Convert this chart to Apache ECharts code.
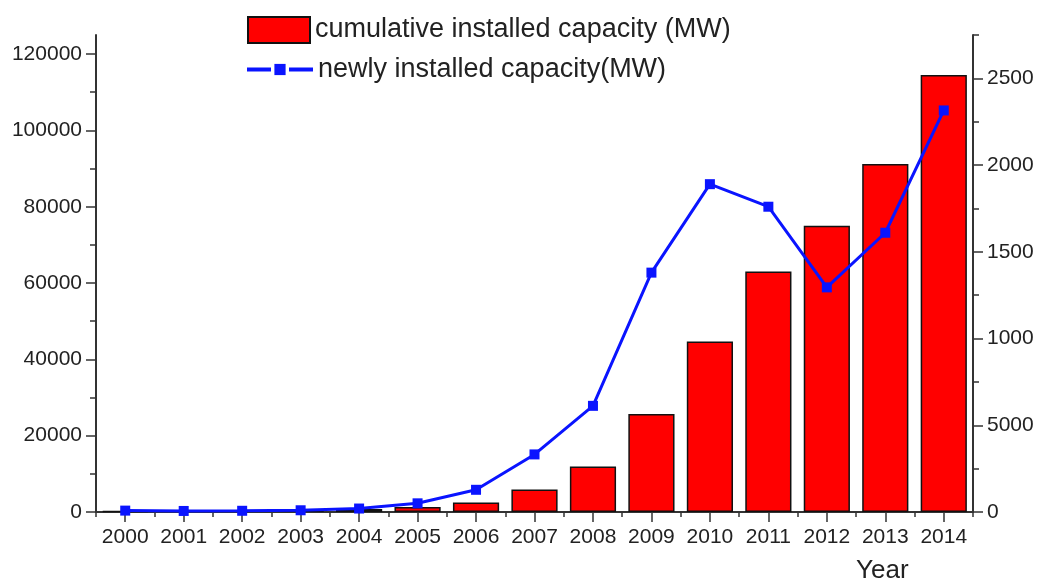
<!DOCTYPE html>
<html>
<head>
<meta charset="utf-8">
<script src="https://cdn.jsdelivr.net/npm/echarts@6/dist/echarts.min.js"></script>
<style>
html,body{margin:0;padding:0;background:#fff;}
#chart{width:1039px;height:586px;}
</style>
</head>
<body>
<div id="chart"></div>
<script>
var years = ['2000','2001','2002','2003','2004','2005','2006','2007','2008','2009','2010','2011','2012','2013','2014'];
var cumulative = [300, 400, 470, 570, 760, 1300, 2500, 5900, 11900, 25700, 44700, 63000, 75000, 91200, 114500];
var newly = [8, 6, 7, 10, 20, 50, 128, 332, 612, 1380, 1890, 1760, 1295, 1610, 2315];
var leftTicks = [0, 20000, 40000, 60000, 80000, 100000, 120000];
var leftMinor = [10000, 30000, 50000, 70000, 90000, 110000];
var rightTicks = [0, 500, 1000, 1500, 2000, 2500];
var rightTickLabels = ['0', '5000', '1000', '1500', '2000', '2500'];
var rightMinor = [250, 750, 1250, 1750, 2250, 2750];
var barName = 'cumulative installed capacity (MW)';
var lineName = 'newly installed capacity(MW)';

var FONT = 'Liberation Sans, Arial, sans-serif';
var AX = '#333';
var chart = echarts.init(document.getElementById('chart'));
chart.setOption({
  animation: false,
  textStyle: {fontFamily: FONT},
  grid: {left: 96, right: 66, top: 35, bottom: 74, containLabel: false},
  legend: [
    {data: [barName], left: 242, top: 11, orient: 'vertical', icon: 'rect', itemWidth: 62, itemHeight: 26,
     textStyle: {fontSize: 27, color: '#222', fontFamily: FONT}},
    {data: [lineName], left: 240, top: 51, orient: 'vertical', itemWidth: 66, itemHeight: 14,
     lineStyle: {type: [24, 18], width: 4},
     textStyle: {fontSize: 27, color: '#222', fontFamily: FONT}}
  ],
  xAxis: [
    {type: 'category', data: years, position: 'bottom', boundaryGap: true,
     axisLine: {show: true, lineStyle: {color: AX, width: 2}},
     axisTick: {show: true, alignWithLabel: true, length: 10, lineStyle: {color: AX, width: 1.5}},
     axisLabel: {fontSize: 21, color: '#222', margin: 15, interval: 0}},
    {type: 'category', data: years, position: 'bottom', boundaryGap: true,
     axisLine: {show: false},
     axisTick: {show: true, alignWithLabel: false, length: 5, lineStyle: {color: AX, width: 1.5}},
     axisLabel: {show: false}}
  ],
  yAxis: [
    {type: 'value', position: 'left', min: 0, max: 125000,
     axisLine: {show: true, lineStyle: {color: AX, width: 2}},
     axisTick: {show: true, customValues: leftTicks, length: 10, lineStyle: {color: AX, width: 1.5}},
     axisLabel: {customValues: leftTicks, fontSize: 21, color: '#222', margin: 14,
       formatter: function (v) { return String(v); }},
     splitLine: {show: false}},
    {type: 'value', position: 'right', min: 0, max: 2750,
     axisLine: {show: true, lineStyle: {color: AX, width: 2}},
     axisTick: {show: true, customValues: rightTicks, length: 10, lineStyle: {color: AX, width: 1.5}},
     axisLabel: {customValues: rightTicks, fontSize: 21, color: '#222', margin: 14,
       formatter: function (v) { var i = rightTicks.indexOf(v); return i >= 0 ? rightTickLabels[i] : ''; }},
     splitLine: {show: false}},
    {type: 'value', position: 'left', min: 0, max: 125000,
     axisLine: {show: false},
     axisTick: {show: true, customValues: leftMinor, length: 6, lineStyle: {color: AX, width: 1.5}},
     axisLabel: {show: false}, splitLine: {show: false}},
    {type: 'value', position: 'right', min: 0, max: 2750,
     axisLine: {show: false},
     axisTick: {show: true, customValues: rightMinor, length: 6, lineStyle: {color: AX, width: 1.5}},
     axisLabel: {show: false}, splitLine: {show: false}}
  ],
  series: [
    {name: barName, type: 'bar', data: cumulative, xAxisIndex: 0, yAxisIndex: 0,
     barCategoryGap: '21%',
     itemStyle: {color: '#ff0000', borderColor: '#111', borderWidth: 1.5}},
    {name: lineName, type: 'line', data: newly, xAxisIndex: 0, yAxisIndex: 1, z: 5,
     symbol: 'rect', symbolSize: 10,
     lineStyle: {color: '#0a14ff', width: 3},
     itemStyle: {color: '#0a14ff'}}
  ],
  graphic: [
    {type: 'text', left: 856, top: 558, style: {text: 'Year', fontSize: 26, fill: '#222', fontFamily: FONT}}
  ]
});
</script>
</body>
</html>
